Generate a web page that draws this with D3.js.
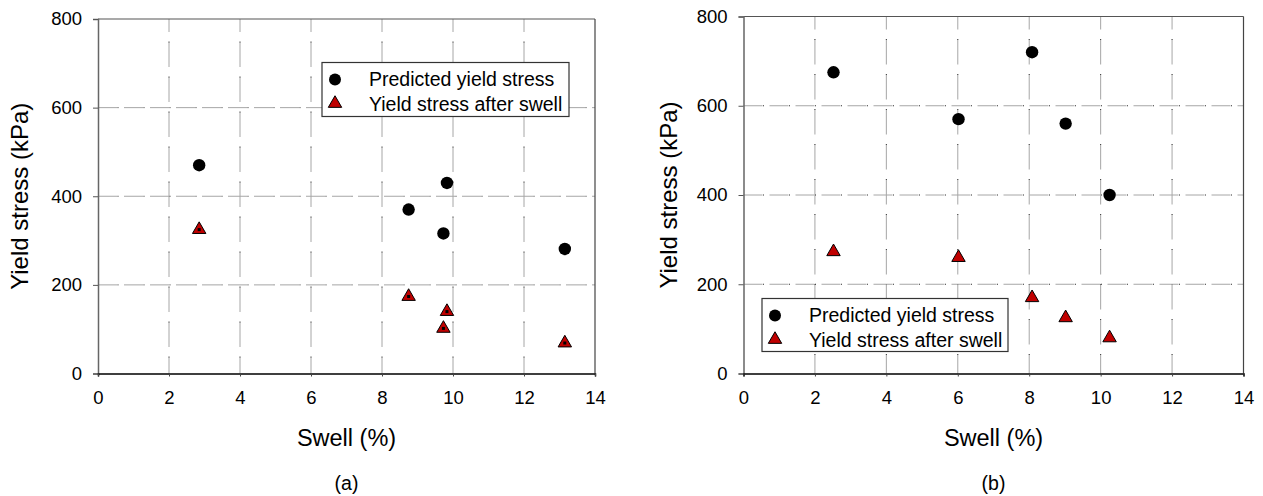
<!DOCTYPE html>
<html>
<head>
<meta charset="utf-8">
<script src="https://cdn.jsdelivr.net/npm/d3@7/dist/d3.min.js"></script>
<style>
  html, body { margin: 0; padding: 0; background: #fff; }
  svg { display: block; font-family: "Liberation Sans", Arial, sans-serif; }
</style>
</head>
<body>
<svg id="chart" width="1263" height="496"></svg>
<script>
// ---- Data ----
const xTicks = [0, 2, 4, 6, 8, 10, 12, 14];
const yTicks = [0, 200, 400, 600, 800];
const seriesNames = ["Predicted yield stress", "Yield stress after swell"];

// Panel (a)
const aSwell = [2.85, 8.75, 9.73, 9.83, 13.15];
const aPredicted = [470, 370, 316, 430, 281];
const aAfterSwell = [327, 176, 104, 142, 71];

// Panel (b)
const bSwell = [2.52, 6.02, 8.08, 9.02, 10.25];
const bPredicted = [675, 570, 720, 560, 400];
const bAfterSwell = [275, 262, 172, 127, 82];

const xTitle = "Swell (%)";
const yTitle = "Yield stress (kPa)";

const svg = d3.select("#chart");

function drawPanel(cfg) {
  const { left, right, top, bottom, swell, pred, after, caption, legend, centerDot } = cfg;
  const x = d3.scaleLinear().domain([0, 14]).range([left, right]);
  const y = d3.scaleLinear().domain([0, 800]).range([bottom, top]);
  const g = svg.append("g");

  // grid: vertical
  const vx = xTicks.filter(t => t > 0 && t < 14);
  g.selectAll(".vg").data(vx).enter().append("line")
    .attr("x1", d => x(d)).attr("x2", d => x(d))
    .attr("y1", top).attr("y2", bottom)
    .attr("stroke", "#a6a6a6").attr("stroke-width", 1)
    .attr("stroke-dasharray", "25,10").attr("stroke-dashoffset", 12);
  g.selectAll(".vgd").data(vx).enter().append("line")
    .attr("x1", d => x(d)).attr("x2", d => x(d))
    .attr("y1", top).attr("y2", bottom)
    .attr("stroke", "#333").attr("stroke-width", 1)
    .attr("stroke-dasharray", "1,34").attr("stroke-dashoffset", 12.5);
  // grid: horizontal
  const hy = yTicks.filter(t => t > 0 && t < 800);
  g.selectAll(".hg").data(hy).enter().append("line")
    .attr("x1", left).attr("x2", right)
    .attr("y1", d => y(d)).attr("y2", d => y(d))
    .attr("stroke", "#a6a6a6").attr("stroke-width", 1)
    .attr("stroke-dasharray", "19,7");
  g.selectAll(".hgd").data(hy).enter().append("line")
    .attr("x1", left).attr("x2", right)
    .attr("y1", d => y(d)).attr("y2", d => y(d))
    .attr("stroke", "#333").attr("stroke-width", 1)
    .attr("stroke-dasharray", "1,25").attr("stroke-dashoffset", -19.5);

  // frame
  g.append("line").attr("x1", left).attr("x2", right).attr("y1", top).attr("y2", top)
    .attr("stroke", "#555").attr("stroke-width", 1.2);
  g.append("line").attr("x1", right).attr("x2", right).attr("y1", top).attr("y2", bottom)
    .attr("stroke", "#444").attr("stroke-width", 1.2);

  // axes
  const yAxis = d3.axisLeft(y).tickValues(yTicks).tickSize(5).tickPadding(11).tickFormat(d3.format("d"));
  const ya = g.append("g").attr("transform", `translate(${left},0)`).call(yAxis);
  ya.select(".domain").attr("stroke", "#666").attr("stroke-width", 1.5);
  ya.selectAll(".tick line").attr("stroke", "#555");
  ya.selectAll("text").attr("font-size", 18.5).attr("fill", "#000")
    .attr("font-family", "Liberation Sans, Arial, sans-serif");

  const xAxis = d3.axisBottom(x).tickValues(xTicks).tickSize(3).tickPadding(14).tickFormat(d3.format("d"));
  const xa = g.append("g").attr("transform", `translate(0,${bottom})`).call(xAxis);
  xa.select(".domain").attr("stroke", "#000").attr("stroke-width", 1.5);
  xa.selectAll(".tick line").attr("stroke", "#444");
  xa.selectAll("text").attr("font-size", 18.5).attr("fill", "#000")
    .attr("font-family", "Liberation Sans, Arial, sans-serif");

  // titles
  const cx = (left + right) / 2;
  g.append("text").attr("x", cx).attr("y", 446).attr("text-anchor", "middle")
    .attr("font-size", 23.5).text(xTitle);
  g.append("text").attr("transform", `translate(${left - cfg.yTitleOff},${(top + bottom) / 2}) rotate(-90)`)
    .attr("text-anchor", "middle").attr("font-size", 24).text(yTitle);
  g.append("text").attr("x", cx).attr("y", 490).attr("text-anchor", "middle")
    .attr("font-size", 19.5).text(caption);

  const tri = d3.symbol().type(d3.symbolTriangle).size(78);

  // points
  const pts = swell.map((s, i) => ({ s, p: pred[i], a: after[i] }));
  g.selectAll(".c").data(pts).enter().append("circle")
    .attr("cx", d => x(d.s)).attr("cy", d => y(d.p)).attr("r", 6.2).attr("fill", "#000");
  g.selectAll(".t").data(pts).enter().append("path")
    .attr("d", tri)
    .attr("transform", d => `translate(${x(d.s)},${y(d.a) + 1})`)
    .attr("fill", "#c00000").attr("stroke", "#000").attr("stroke-width", 1);
  if (centerDot) {
    g.selectAll(".td").data(pts).enter().append("rect")
      .attr("x", d => x(d.s) - 1.5).attr("y", d => y(d.a) - 0.5).attr("width", 3).attr("height", 3)
      .attr("fill", "#000");
  }

  // legend
  const L = legend;
  g.append("rect").attr("x", L.x).attr("y", L.y).attr("width", L.w).attr("height", L.h)
    .attr("fill", "#fff").attr("stroke", "#333").attr("stroke-width", 1.2);
  g.append("circle").attr("cx", L.x + 13).attr("cy", L.y + 17).attr("r", 6).attr("fill", "#000");
  g.append("path").attr("d", tri).attr("transform", `translate(${L.x + 13},${L.y + 41})`)
    .attr("fill", "#c00000").attr("stroke", "#000").attr("stroke-width", 1);
  g.append("text").attr("x", L.x + 47).attr("y", L.y + 23.5).attr("font-size", 19.5).text(seriesNames[0]);
  g.append("text").attr("x", L.x + 47).attr("y", L.y + 48).attr("font-size", 19.5).text(seriesNames[1]);
}

drawPanel({
  left: 98, right: 595, top: 19, bottom: 373.5,
  swell: aSwell, pred: aPredicted, after: aAfterSwell,
  caption: "(a)", yTitleOff: 70, centerDot: true,
  legend: { x: 322, y: 62.5, w: 247, h: 54 }
});
drawPanel({
  left: 743.5, right: 1243.5, top: 16.5, bottom: 373.5,
  swell: bSwell, pred: bPredicted, after: bAfterSwell,
  caption: "(b)", yTitleOff: 67, centerDot: false,
  legend: { x: 762, y: 298.5, w: 246, h: 53 }
});
</script>
</body>
</html>
